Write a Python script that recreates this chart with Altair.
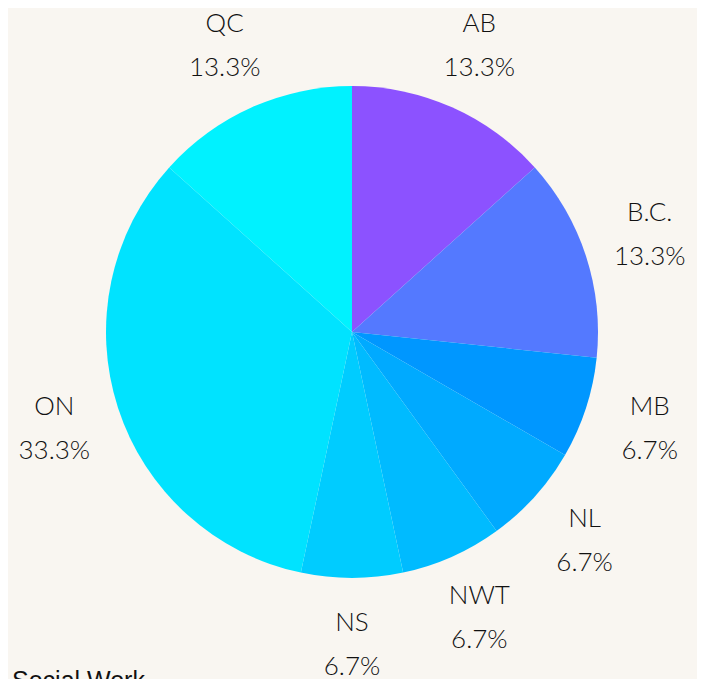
import altair as alt
import pandas as pd

provinces = ["AB", "B.C.", "MB", "NL", "NWT", "NS", "ON", "QC"]
counts = [2, 2, 1, 1, 1, 1, 5, 2]
colors = ["#8C52FF", "#5479FF", "#0097FF", "#00AAFF", "#00BBFF", "#00CCFF", "#00E3FF", "#00F2FF"]

total = sum(counts)
pct_labels = [f"{c / total * 100:.1f}%" for c in counts]

df = pd.DataFrame({
    "province": provinces,
    "count": counts,
    "order": list(range(len(provinces))),
    "label": [f"{p}\n{l}" for p, l in zip(provinces, pct_labels)],
})

W, H = 689, 671
cx, cy = 344, 324

base = alt.Chart(df).encode(
    theta=alt.Theta("count:Q", stack=True),
    order=alt.Order("order:Q"),
)

pie = base.mark_arc(radius=246, stroke=None).encode(
    color=alt.Color("province:N", scale=alt.Scale(domain=provinces, range=colors), legend=None),
    x=alt.value(cx),
    y=alt.value(cy),
)

labels = base.mark_text(
    radius=313, font="Lato", fontWeight=300, fontSize=26, lineBreak="\n",
    lineHeight=44, align="center", baseline="middle", dy=-22, color="#111111",
).encode(
    text="label:N",
    x=alt.value(cx),
    y=alt.value(cy),
)

footer = alt.Chart(pd.DataFrame({"t": ["Social Work"]})).mark_text(
    font="Liberation Sans", fontSize=25, align="left", baseline="alphabetic", color="#111111",
).encode(
    text="t:N",
    x=alt.value(4),
    y=alt.value(681),
)

chart = alt.layer(pie, labels, footer).properties(
    width=W, height=H,
    autosize=alt.AutoSizeParams(type="none"),
    padding=0,
    background="#F9F6F1",
).configure_view(stroke=None)

chart.save("out.html", embed_options={"renderer": "svg", "actions": False})
